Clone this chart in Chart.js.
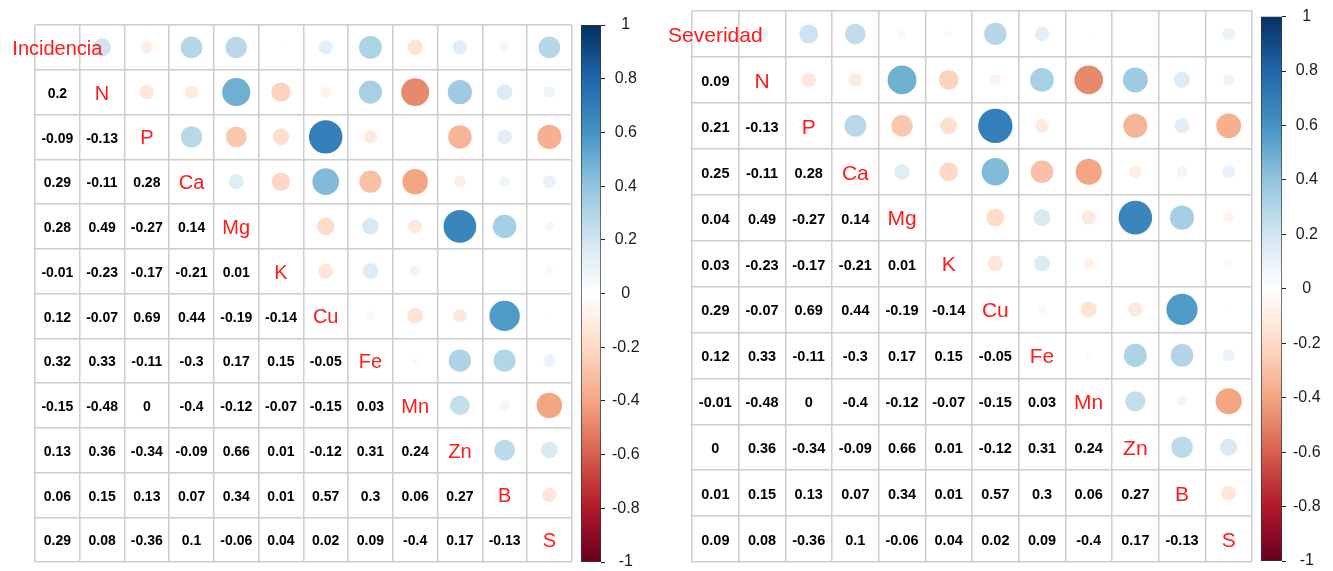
<!DOCTYPE html>
<html>
<head>
<meta charset="utf-8">
<script src="https://cdn.jsdelivr.net/npm/chart.js@4.4.1/dist/chart.umd.min.js"></script>
<style>
  html, body { margin: 0; padding: 0; background: #fff; overflow: hidden; width: 1333px; height: 571px; }
  canvas { position: absolute; top: 0; }
</style>
</head>
<body>
<canvas id="incMatrix" width="580" height="571" style="left:0px"></canvas>
<canvas id="incBar" width="80" height="590" style="left:575px"></canvas>
<canvas id="sevMatrix" width="610" height="571" style="left:650px"></canvas>
<canvas id="sevBar" width="80" height="590" style="left:1255px"></canvas>
<script>
// ---------------- DATA ----------------
const incidenciaVars = ['Incidencia', 'N', 'P', 'Ca', 'Mg', 'K', 'Cu', 'Fe', 'Mn', 'Zn', 'B', 'S'];
const severidadVars  = ['Severidad',  'N', 'P', 'Ca', 'Mg', 'K', 'Cu', 'Fe', 'Mn', 'Zn', 'B', 'S'];

// correlation of the response (first variable) with N, P, Ca, Mg, K, Cu, Fe, Mn, Zn, B, S
const incidenciaCol = [0.2, -0.09, 0.29, 0.28, -0.01, 0.12, 0.32, -0.15, 0.13, 0.06, 0.29];
const severidadCol  = [0.09, 0.21, 0.25, 0.04, 0.03, 0.29, 0.12, -0.01, 0, 0.01, 0.09];

// lower triangle of the nutrient-nutrient correlations (rows N..S)
const rowN  = [];
const rowP  = [-0.13];
const rowCa = [-0.11, 0.28];
const rowMg = [0.49, -0.27, 0.14];
const rowK  = [-0.23, -0.17, -0.21, 0.01];
const rowCu = [-0.07, 0.69, 0.44, -0.19, -0.14];
const rowFe = [0.33, -0.11, -0.3, 0.17, 0.15, -0.05];
const rowMn = [-0.48, 0, -0.4, -0.12, -0.07, -0.15, 0.03];
const rowZn = [0.36, -0.34, -0.09, 0.66, 0.01, -0.12, 0.31, 0.24];
const rowB  = [0.15, 0.13, 0.07, 0.34, 0.01, 0.57, 0.3, 0.06, 0.27];
const rowS  = [0.08, -0.36, 0.1, -0.06, 0.04, 0.02, 0.09, -0.4, 0.17, -0.13];
const nutrientRows = [rowN, rowP, rowCa, rowMg, rowK, rowCu, rowFe, rowMn, rowZn, rowB, rowS];

const colorbarTicks = [-1, -0.8, -0.6, -0.4, -0.2, 0, 0.2, 0.4, 0.6, 0.8, 1];

// ---------------- HELPERS ----------------
const FONT = "'Liberation Sans', Arial, Helvetica, sans-serif";
const rdbu = ['#67001F', '#B2182B', '#D6604D', '#F4A582', '#FDDBC7', '#FFFFFF',
              '#D1E5F0', '#92C5DE', '#4393C3', '#2166AC', '#053061'];

function hexToRgb(h) {
  return [parseInt(h.slice(1, 3), 16), parseInt(h.slice(3, 5), 16), parseInt(h.slice(5, 7), 16)];
}
function rdbuColor(v) {
  const t = (v + 1) / 2 * (rdbu.length - 1);
  const i = Math.max(0, Math.min(rdbu.length - 2, Math.floor(t)));
  const f = t - i;
  const a = hexToRgb(rdbu[i]), b = hexToRgb(rdbu[i + 1]);
  const c = a.map((av, k) => Math.round(av + (b[k] - av) * f));
  return `rgb(${c[0]},${c[1]},${c[2]})`;
}
function corrValue(firstCol, i, j) {
  if (i === j) return 1;
  const a = Math.max(i, j), b = Math.min(i, j);
  if (b === 0) return firstCol[a - 1];
  return nutrientRows[a - 1][b - 1];
}

function makeTextPlugin(vars, firstCol, labelSize, numSize) {
  return {
    id: 'corrText',
    afterDatasetsDraw(chart) {
      const { ctx, scales: { x, y } } = chart;
      const n = vars.length;
      ctx.save();
      ctx.textAlign = 'center';
      ctx.textBaseline = 'middle';
      for (let i = 0; i < n; i++) {
        for (let j = 0; j <= i; j++) {
          const px = x.getPixelForValue(j + 1);
          const py = y.getPixelForValue(i + 1);
          if (i === j) {
            ctx.fillStyle = '#ff1a1a';
            ctx.font = `${labelSize}px ${FONT}`;
            ctx.fillText(vars[i], px, py + 2);
          } else {
            ctx.fillStyle = '#000000';
            ctx.font = `bold ${numSize}px ${FONT}`;
            ctx.fillText(String(corrValue(firstCol, i, j)), px, py + 2);
          }
        }
      }
      ctx.restore();
    }
  };
}

function buildMatrix(id, vars, firstCol, pad, labelSize, numSize) {
  const n = vars.length;
  const pts = [];
  for (let i = 0; i < n; i++) {
    for (let j = i + 1; j < n; j++) {
      pts.push({ x: j + 1, y: i + 1, v: corrValue(firstCol, i, j) });
    }
  }
  const bounds = Array.from({ length: n + 1 }, (_, k) => k + 0.5);
  const gridCfg = { color: '#cdcdcd', lineWidth: 1.5, drawTicks: false };
  const radiusFn = (c) => {
    if (!c.raw) return 0;
    const xs = c.chart.scales.x, ys = c.chart.scales.y;
    const cw = Math.abs(xs.getPixelForValue(2) - xs.getPixelForValue(1));
    const ch = Math.abs(ys.getPixelForValue(2) - ys.getPixelForValue(1));
    return 0.45 * Math.min(cw, ch) * Math.sqrt(Math.abs(c.raw.v));
  };
  new Chart(document.getElementById(id), {
    type: 'scatter',
    data: {
      datasets: [{
        data: pts,
        pointStyle: 'circle',
        pointRadius: radiusFn,
        pointHoverRadius: radiusFn,
        pointBackgroundColor: (c) => c.raw ? rdbuColor(c.raw.v) : 'transparent',
        pointBorderWidth: 0,
        showLine: false
      }]
    },
    options: {
      responsive: false,
      animation: false,
      events: [],
      layout: { padding: pad },
      plugins: { legend: { display: false }, tooltip: { enabled: false } },
      scales: {
        x: {
          type: 'linear', min: 0.5, max: n + 0.5,
          afterBuildTicks: (s) => { s.ticks = bounds.map(v => ({ value: v })); },
          ticks: { display: false },
          grid: gridCfg,
          border: { display: false }
        },
        y: {
          type: 'linear', reverse: true, min: 0.5, max: n + 0.5,
          afterBuildTicks: (s) => { s.ticks = bounds.map(v => ({ value: v })); },
          ticks: { display: false },
          grid: gridCfg,
          border: { display: false }
        }
      }
    },
    plugins: [makeTextPlugin(vars, firstCol, labelSize, numSize)]
  });
}

function buildColorbar(id, pad) {
  const lo = colorbarTicks[0], hi = colorbarTicks[colorbarTicks.length - 1];
  new Chart(document.getElementById(id), {
    type: 'bar',
    data: {
      labels: [''],
      datasets: [{
        data: [[lo, hi]],
        backgroundColor: (c) => {
          const ch = c.chart;
          const ys = ch.scales.y;
          if (!ys || !ch.chartArea) return '#ffffff';
          const g = ch.ctx.createLinearGradient(0, ys.getPixelForValue(lo), 0, ys.getPixelForValue(hi));
          rdbu.forEach((col, k) => g.addColorStop(k / (rdbu.length - 1), col));
          return g;
        },
        borderColor: '#333333',
        borderWidth: 1,
        borderSkipped: false,
        barPercentage: 1,
        categoryPercentage: 1
      }]
    },
    options: {
      responsive: false,
      animation: false,
      events: [],
      layout: { padding: pad },
      plugins: { legend: { display: false }, tooltip: { enabled: false } },
      scales: {
        x: { display: false },
        y: {
          position: 'right', min: lo, max: hi,
          afterBuildTicks: (s) => { s.ticks = colorbarTicks.map(v => ({ value: v })); },
          afterFit: (s) => { s.width = 40; },
          ticks: {
            font: { family: FONT, size: 16 },
            color: '#1a1a1a',
            crossAlign: 'center',
            padding: 7,
            callback: (v) => String(v)
          },
          grid: { drawOnChartArea: false, drawTicks: true, tickLength: 4, color: '#222222', lineWidth: 1 },
          border: { display: false }
        }
      }
    }
  });
}

buildMatrix('incMatrix', incidenciaVars, incidenciaCol, { left: 35, top: 25, right: 8.3, bottom: 9 }, 20, 14);
buildColorbar('incBar', { left: 6, top: 25, right: 14, bottom: 28 });
buildMatrix('sevMatrix', severidadVars, severidadCol, { left: 42, top: 11, right: 8, bottom: 9 }, 21, 14.5);
buildColorbar('sevBar', { left: 6, top: 11, right: 13, bottom: 29 });
</script>
</body>
</html>
